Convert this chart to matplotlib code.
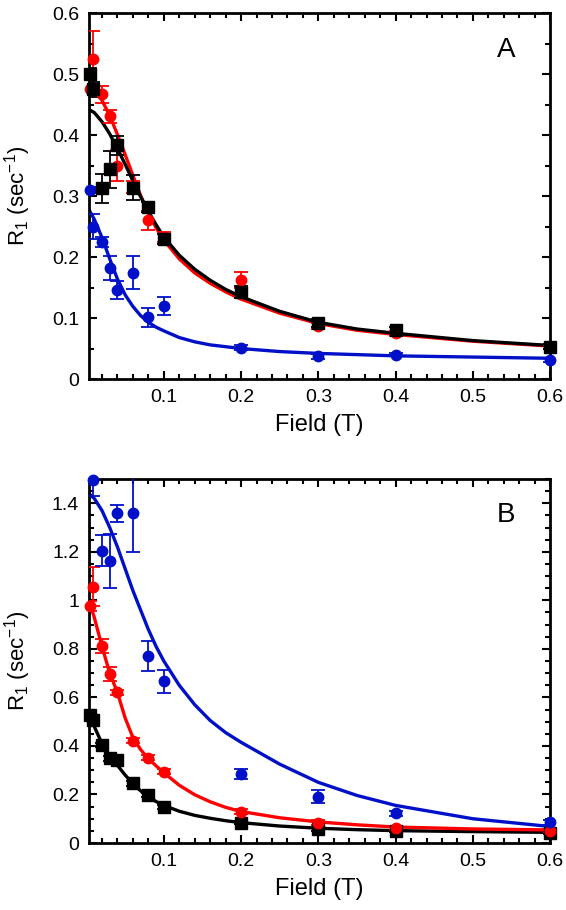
import numpy as np
import matplotlib.pyplot as plt
from matplotlib.ticker import MultipleLocator, FuncFormatter

plt.rcParams['font.family'] = ['Liberation Sans', 'DejaVu Sans']
plt.rcParams['mathtext.fontset'] = 'custom'
plt.rcParams['mathtext.rm'] = 'Liberation Sans'

# field values (T) shared by all data sets
field = [0.004, 0.009, 0.02, 0.03, 0.04, 0.06, 0.08, 0.1, 0.2, 0.3, 0.4, 0.6]

# panel A measured R1
black_a = [0.50, 0.475, 0.313, 0.344, 0.383, 0.314, 0.282, 0.23, 0.143, 0.092, 0.08, 0.053]
black_a_err = [0.01, 0.012, 0.024, 0.03, 0.016, 0.02, 0.008, 0.008, 0.01, 0.006, 0.005, 0.004]
red_a = [0.475, 0.525, 0.467, 0.431, 0.35, 0.315, 0.26, 0.233, 0.162, 0.087, 0.075, 0.053]
red_a_err = [0.005, 0.045, 0.014, 0.011, 0.025, 0.01, 0.015, 0.008, 0.013, 0.005, 0.004, 0.003]
blue_a = [0.31, 0.25, 0.225, 0.182, 0.146, 0.174, 0.101, 0.12, 0.051, 0.037, 0.04, 0.031]
blue_a_err = [0.005, 0.02, 0.008, 0.02, 0.015, 0.027, 0.015, 0.015, 0.004, 0.004, 0.003, 0.003]

# panel B measured R1
black_b = [0.527, 0.507, 0.404, 0.349, 0.342, 0.246, 0.198, 0.15, 0.084, 0.056, 0.049, 0.04]
black_b_err = [0.01, 0.01, 0.01, 0.01, 0.01, 0.01, 0.008, 0.008, 0.006, 0.005, 0.004, 0.004]
red_b = [0.978, 1.056, 0.812, 0.696, 0.622, 0.421, 0.352, 0.294, 0.129, 0.084, 0.06, 0.05]
red_b_err = [0.02, 0.08, 0.03, 0.03, 0.01, 0.01, 0.01, 0.01, 0.01, 0.01, 0.005, 0.005]
blue_b = [np.nan, 1.498, 1.205, 1.162, 1.358, 1.358, 0.77, 0.667, 0.284, 0.191, 0.122, 0.085]
blue_b_err = [np.nan, 0.07, 0.065, 0.11, 0.037, 0.16, 0.062, 0.047, 0.02, 0.027, 0.01, 0.01]

# fitted curves
fit_x = [0.003, 0.01, 0.02, 0.03, 0.04, 0.05, 0.06, 0.07, 0.08, 0.09, 0.1, 0.12,
         0.14, 0.16, 0.18, 0.2, 0.25, 0.3, 0.35, 0.4, 0.5, 0.6]
fit_black_a = [0.442, 0.437, 0.422, 0.402, 0.378, 0.352, 0.325, 0.299, 0.275, 0.253, 0.233, 0.203,
               0.180, 0.162, 0.147, 0.135, 0.111, 0.093, 0.082, 0.075, 0.063, 0.055]
fit_red_a = [0.484, 0.476, 0.457, 0.432, 0.401, 0.368, 0.334, 0.301, 0.272, 0.248, 0.228, 0.197,
             0.174, 0.157, 0.143, 0.131, 0.108, 0.091, 0.080, 0.073, 0.062, 0.054]
fit_blue_a = [0.278, 0.262, 0.232, 0.197, 0.164, 0.138, 0.119, 0.104, 0.093, 0.085, 0.079, 0.068,
              0.061, 0.056, 0.053, 0.050, 0.045, 0.042, 0.040, 0.038, 0.036, 0.034]
fit_blue_b = [1.44, 1.42, 1.37, 1.30, 1.22, 1.13, 1.04, 0.96, 0.88, 0.81, 0.75, 0.65,
              0.57, 0.505, 0.455, 0.415, 0.325, 0.25, 0.196, 0.155, 0.10, 0.068]
fit_red_b = [1.00, 0.93, 0.81, 0.70, 0.62, 0.515, 0.435, 0.385, 0.348, 0.318, 0.29, 0.238,
             0.199, 0.170, 0.147, 0.130, 0.104, 0.087, 0.075, 0.066, 0.058, 0.054]
fit_black_b = [0.53, 0.48, 0.41, 0.36, 0.32, 0.28, 0.245, 0.215, 0.19, 0.171, 0.155, 0.131,
               0.114, 0.102, 0.092, 0.084, 0.070, 0.061, 0.055, 0.051, 0.047, 0.044]

RED = '#ff0000'
BLUE = '#0010c8'
BLACK = '#000000'

fig = plt.figure(figsize=(5.66, 9.10), dpi=100)
axA = fig.add_axes([0.157, 0.5835, 0.815, 0.402])
axB = fig.add_axes([0.157, 0.0736, 0.815, 0.400])


def draw(ax, sets, fits):
    for y, c in fits:
        ax.plot(fit_x, y, color=c, lw=2.4, zorder=2)
    for y, e, c, m, ms in sets:
        ax.errorbar(field, y, yerr=e, fmt='none', ecolor=c, capsize=5,
                    elinewidth=1.3, capthick=1.3, zorder=3)
        ax.plot(field, y, m, color=c, ms=ms, zorder=4, clip_on=False)


draw(axA,
     [(red_a, red_a_err, RED, 'o', 7.5),
      (blue_a, blue_a_err, BLUE, 'o', 7.5),
      (black_a, black_a_err, BLACK, 's', 8)],
     [(fit_red_a, RED), (fit_black_a, BLACK), (fit_blue_a, BLUE)])
draw(axB,
     [(black_b, black_b_err, BLACK, 's', 8),
      (red_b, red_b_err, RED, 'o', 7.5),
      (blue_b, blue_b_err, BLUE, 'o', 7.5)],
     [(fit_black_b, BLACK), (fit_red_b, RED), (fit_blue_b, BLUE)])

fmt = FuncFormatter(lambda v, p: '%g' % round(v, 3))
for ax, ymax, ymaj, letter in [(axA, 0.6, 0.1, 'A'), (axB, 1.5, 0.2, 'B')]:
    ax.set_xlim(0.003, 0.6)
    ax.set_ylim(0, ymax)
    ax.xaxis.set_major_locator(MultipleLocator(0.1))
    ax.xaxis.set_minor_locator(MultipleLocator(0.02))
    ax.yaxis.set_major_locator(MultipleLocator(ymaj))
    ax.yaxis.set_minor_locator(MultipleLocator(0.05))
    ax.xaxis.set_major_formatter(fmt)
    ax.yaxis.set_major_formatter(fmt)
    ax.tick_params(which='both', direction='in', top=True, right=True, width=1.5,
                   labelsize=14, pad=7)
    ax.tick_params(which='major', length=6)
    ax.tick_params(which='minor', length=3.5)
    for s in ax.spines.values():
        s.set_linewidth(2)
    ax.set_xlabel('Field (T)', fontsize=17, labelpad=6)
    ax.set_ylabel(r'R$_\mathregular{1}$ (sec$^\mathregular{-1}$)', fontsize=16)
    ax.yaxis.set_label_coords(-0.122, 0.5)
    ax.text(0.905, 0.9, letter, transform=ax.transAxes, fontsize=20,
            ha='center', va='center')

fig.savefig('out.png', dpi=100)
